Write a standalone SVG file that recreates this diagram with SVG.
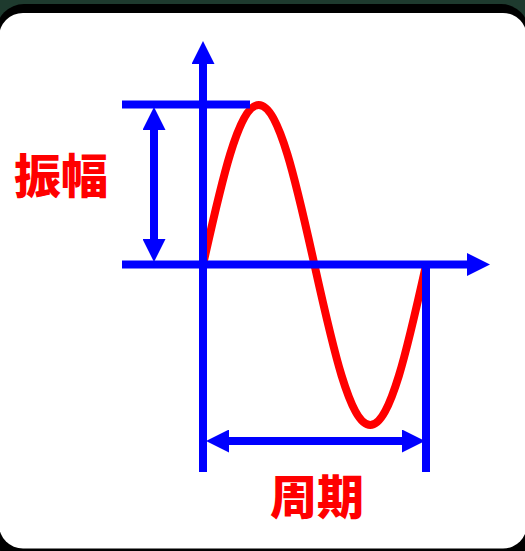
<svg xmlns="http://www.w3.org/2000/svg" width="525" height="551" viewBox="0 0 525 551">
  <style>
    .ax{stroke:#0000ff;stroke-width:8;fill:none;stroke-linecap:butt}
    .wave{stroke:#ff0000;stroke-width:8;fill:none}
    .lbl{fill:#ff0000;font-family:"Noto Sans CJK JP","Noto Sans CJK SC",sans-serif;font-weight:900;font-size:47px;text-anchor:middle}
  </style>
  <defs>
    <marker id="ah" markerUnits="userSpaceOnUse" viewBox="0 0 23 23" refX="1" refY="11.5" markerWidth="23" markerHeight="23" orient="auto-start-reverse">
      <path d="M0,0 L23,11.5 L0,23 Z" fill="#0000ff"/>
    </marker>
  </defs>
  <rect x="0" y="0" width="525" height="551" fill="#1e3a2e"/>
  <rect x="-4" y="4" width="533" height="560" rx="28" fill="#000000"/>
  <rect x="-1" y="13" width="528" height="535.5" rx="24" fill="#ffffff"/>
  <g id="wave">
    <path class="wave" d="M203,265 C221.18,183.03 238.57,105 258.75,105 C278.93,105 296.32,183.03 314.5,265 C332.68,346.97 350.07,425 370.25,425 C390.43,425 407.82,346.97 426,265"/>
  </g>
  <g id="connectors">
    <line class="ax" x1="203" y1="472" x2="203" y2="63" marker-end="url(#ah)"/>
    <line class="ax" x1="122" y1="264.5" x2="468" y2="264.5" marker-end="url(#ah)"/>
    <line class="ax" x1="122" y1="104.5" x2="250" y2="104.5"/>
    <line class="ax" x1="426" y1="261" x2="426" y2="472"/>
    <line class="ax" x1="154" y1="129" x2="154" y2="240" marker-start="url(#ah)" marker-end="url(#ah)"/>
    <line class="ax" x1="228" y1="441" x2="403" y2="441" marker-start="url(#ah)" marker-end="url(#ah)"/>
  </g>
  <g id="amplitude-label">
    <text class="lbl" x="61" y="193">振幅</text>
  </g>
  <g id="period-label">
    <text class="lbl" x="317" y="514">周期</text>
  </g>
</svg>
